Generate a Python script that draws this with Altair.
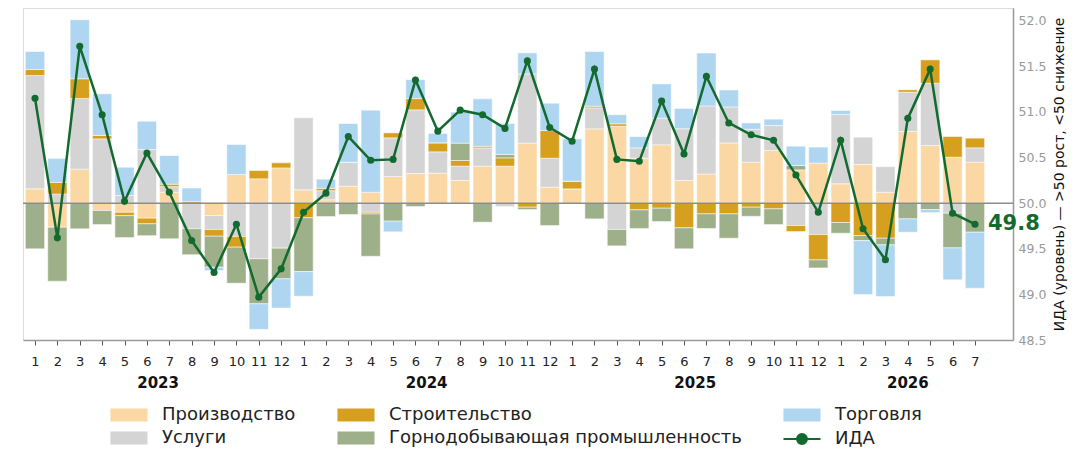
import altair as alt
import pandas as pd

# ---- data ----
years = [2023] * 12 + [2024] * 12 + [2025] * 12 + [2026] * 7
months = list(range(1, 13)) * 3 + list(range(1, 8))

production = [0.157, -0.263, 0.373, -0.08, -0.10, -0.164, 0.12, 0.0, -0.135, 0.314, 0.267, 0.387,
              0.146, 0.037, 0.186, 0.12, 0.292, 0.325, 0.329, 0.249, 0.406, 0.406, 0.658, 0.175,
              0.157, 0.815, 0.844, 0.493, 0.64, 0.249, 0.32, 0.66, 0.45, 0.577, 0.365, 0.44,
              0.212, 0.424, 0.12, 0.786, 0.632, 0.504, 0.45]
services = [1.243, 0.10, 0.775, 0.705, 0.084, 0.588, 0.062, -0.28, -0.154, -0.365, -0.61, -0.493,
            0.79, 0.10, 0.263, -0.10, 0.424, 0.698, 0.234, 0.157, 0.20, -0.037, 0.76, 0.318,
            0.0, 0.23, -0.289, 0.113, 0.292, 0.567, 0.746, 0.395, 0.36, 0.274, -0.245, -0.344,
            0.76, 0.30, 0.28, 0.431, 0.683, -0.11, 0.157]
construction = [0.066, 0.128, 0.216, 0.037, -0.037, -0.062, 0.026, 0.02, -0.073, -0.117, 0.091, 0.055,
                -0.16, 0.026, 0.0, -0.018, 0.055, 0.124, 0.099, 0.062, 0.018, 0.091, -0.044, 0.303,
                0.084, 0.018, 0.026, -0.073, -0.055, -0.27, -0.117, -0.117, -0.044, -0.062, -0.066, -0.278,
                -0.212, -0.355, -0.384, 0.026, 0.256, 0.227, 0.106]
mining = [-0.50, -0.592, -0.281, -0.154, -0.24, -0.13, -0.39, -0.285, -0.34, -0.395, -0.493, -0.336,
          -0.59, -0.146, -0.124, -0.464, -0.197, -0.037, 0.0, 0.19, -0.208, 0.037, -0.026, -0.245,
          0.0, -0.172, -0.179, -0.205, -0.146, -0.23, -0.16, -0.267, -0.10, -0.172, 0.048, -0.088,
          -0.117, -0.055, -0.073, -0.172, -0.07, -0.38, -0.318]
trade = [0.197, 0.263, 0.647, 0.457, 0.31, 0.31, 0.314, 0.146, -0.037, 0.329, -0.28, -0.32,
         -0.27, 0.10, 0.424, 0.90, -0.117, 0.208, 0.102, 0.34, 0.52, 0.34, 0.23, 0.30,
         0.464, 0.60, 0.10, 0.124, 0.376, 0.223, 0.58, 0.186, 0.07, 0.07, 0.212, 0.175,
         0.044, -0.592, -0.567, -0.146, -0.033, -0.35, -0.614]
ida = [51.15, 49.62, 51.72, 50.97, 50.02, 50.55, 50.12, 49.59, 49.24, 49.77, 48.97, 49.28,
       49.90, 50.11, 50.73, 50.47, 50.48, 51.35, 50.79, 51.02, 50.97, 50.82, 51.56, 50.83,
       50.68, 51.47, 50.48, 50.46, 51.12, 50.54, 51.39, 50.88, 50.75, 50.69, 50.31, 49.90,
       50.69, 49.72, 49.38, 50.93, 51.47, 49.89, 49.77]

categories = ["Производство", "Услуги", "Строительство",
              "Горнодобывающая промышленность", "Торговля"]
cat_colors = ["#FAD7A3", "#D4D4D4", "#D6A01E", "#9DB08A", "#AED6F1"]
line_label = "ИДА"
line_color = "#136A2E"
baseline = 50.0
y_ticks = [48.5, 49.0, 49.5, 50.0, 50.5, 51.0, 51.5, 52.0]

# ---- tables ----
series = [production, services, construction, mining, trade]
rows = []
for i in range(len(ida)):
    for k, (cat, vals) in enumerate(zip(categories, series)):
        rows.append({"idx": i, "cat": cat, "ord": k, "value": vals[i]})
bars_df = pd.DataFrame(rows)
line_df = pd.DataFrame({"idx": list(range(len(ida))), "ida": ida,
                        "year": years, "month": months,
                        "series": [line_label] * len(ida)})
base_df = pd.DataFrame({"y": [baseline]})

W, H = 990, 332
x_scale = alt.Scale(domain=[-0.536, 43.7], nice=False, zero=False)
y_scale = alt.Scale(domain=[48.5, 52.14], nice=False, zero=False)

x_axis = alt.Axis(values=list(range(len(ida))), labelExpr="(datum.value % 12) + 1",
                  labelOverlap=False, labelFlush=False, title=None, grid=False,
                  domainColor="#999999", domainWidth=1.5,
                  tickColor="#555555", tickSize=5, labelFontSize=13, labelColor="#222222",
                  labelPadding=10, labelFont="DejaVu Sans")
y_axis = alt.Axis(orient="right", values=y_ticks,
                  format=".1f", grid=False, ticks=False, labelPadding=5,
                  labelOverlap=False, labelFlush=False,
                  labelColor="#9A9A9A", labelFontSize=12.5, labelFont="DejaVu Sans",
                  domainColor="#999999", domainWidth=1.5,
                  title="ИДА (уровень) — >50 рост, <50 снижение",
                  titleAngle=270, titleBaseline="top", titleFontSize=14,
                  titleFontWeight="normal", titleColor="#111111",
                  titleFont="DejaVu Sans", titlePadding=7)

FS = 18
bars = alt.Chart(bars_df).transform_stack(
    stack="value", groupby=["idx"], as_=["v0", "v1"],
    sort=[alt.SortField("ord", order="ascending")]
).transform_calculate(
    x0="datum.idx - 0.43", x1="datum.idx + 0.43",
    y0=f"{baseline} + datum.v0", y1=f"{baseline} + datum.v1"
).mark_bar(stroke="white", strokeWidth=0.5).encode(
    x=alt.X("x0:Q", scale=x_scale, axis=x_axis),
    x2="x1:Q",
    y=alt.Y("y0:Q", scale=y_scale, axis=y_axis),
    y2="y1:Q",
    fill=alt.Fill("cat:N", scale=alt.Scale(domain=categories, range=cat_colors),
                  legend=alt.Legend(orient="none", legendX=109, legendY=398, columns=3,
                                    title=None, symbolType="M-4.7,-1H1V1H-4.7Z",
                                    symbolSize=169, symbolStrokeWidth=0,
                                    labelFontSize=FS, labelFont="DejaVu Sans",
                                    labelColor="#222222", labelOffset=12, labelLimit=500,
                                    columnPadding=41, rowPadding=5, padding=0)),
)

zero_line = alt.Chart(base_df).mark_rule(color="#8C8C8C", strokeWidth=1.5).encode(
    y=alt.Y("y:Q", scale=y_scale, axis=y_axis))

line = alt.Chart(line_df).mark_line(strokeWidth=2.5).encode(
    x=alt.X("idx:Q", scale=x_scale, axis=x_axis),
    y=alt.Y("ida:Q", scale=y_scale, axis=y_axis),
    stroke=alt.Stroke("series:N",
                      scale=alt.Scale(domain=[line_label], range=[line_color]),
                      legend=alt.Legend(orient="none", legendX=782, legendY=422, title=None,
                                        symbolType="M-4.7,0H1M-2.6,0A0.75,0.75 0 1,0 -1.1,0A0.75,0.75 0 1,0 -2.6,0",
                                        symbolSize=169, symbolStrokeWidth=2.2,
                                        symbolFillColor=line_color,
                                        labelFontSize=FS, labelFont="DejaVu Sans",
                                        labelColor="#222222", labelOffset=12, padding=0)),
)

points = alt.Chart(line_df).mark_circle(size=50, color=line_color, opacity=1).encode(
    x=alt.X("idx:Q", scale=x_scale, axis=x_axis),
    y=alt.Y("ida:Q", scale=y_scale, axis=y_axis),
)

last_label = alt.Chart(line_df).transform_window(
    rank="rank()", sort=[alt.SortField("idx", order="descending")]
).transform_filter("datum.rank == 1").mark_text(
    align="left", baseline="middle", dx=13, fontSize=21, fontWeight="bold",
    font="DejaVu Sans", color=line_color
).encode(
    x=alt.X("idx:Q", scale=x_scale, axis=x_axis),
    y=alt.Y("ida:Q", scale=y_scale, axis=y_axis),
    text=alt.Text("ida:Q", format=".1f"),
)

year_labels = alt.Chart(line_df).transform_aggregate(
    center="mean(idx)", groupby=["year"]
).mark_text(fontSize=15, fontWeight="bold", font="DejaVu Sans", color="#111111",
            baseline="middle").encode(
    x=alt.X("center:Q", scale=x_scale, axis=x_axis),
    y=alt.value(H + 43),
    text=alt.Text("year:N"),
)

chart = alt.layer(bars, zero_line, line, points, last_label, year_labels).resolve_scale(
    fill="independent", stroke="independent"
).properties(
    width=W, height=H, padding={"left": 14, "top": 0, "right": 5, "bottom": 5}
).configure_view(stroke=None).configure(background="white")

chart.save("out.html", embed_options={"renderer": "svg", "actions": False})
